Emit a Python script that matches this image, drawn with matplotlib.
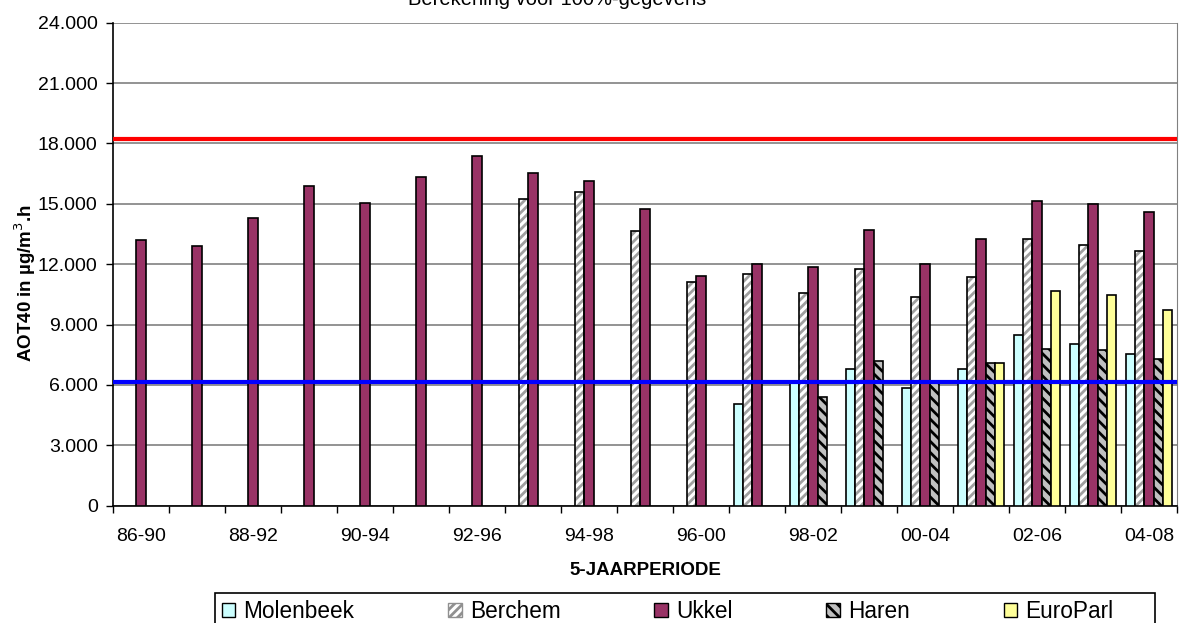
import numpy as np
import matplotlib
matplotlib.use("Agg")
import matplotlib.pyplot as plt
from matplotlib.patches import Patch, Rectangle
from matplotlib.ticker import FuncFormatter

plt.rcParams['font.family'] = ['Liberation Sans', 'DejaVu Sans']
plt.rcParams['hatch.linewidth'] = 2.0

periods = ['86-90', '87-91', '88-92', '89-93', '90-94', '91-95', '92-96', '93-97',
           '94-98', '95-99', '96-00', '97-01', '98-02', '99-03', '00-04', '01-05',
           '02-06', '03-07', '04-08']

nan = np.nan
molenbeek = [nan, nan, nan, nan, nan, nan, nan, nan, nan, nan, nan,
             5050, 6100, 6800, 5850, 6800, 8500, 8050, 7550]
berchem = [nan, nan, nan, nan, nan, nan, nan, 15250, 15600, 13650, 11100,
           11500, 10550, 11750, 10350, 11350, 13250, 12950, 12650]
ukkel = [13200, 12900, 14300, 15900, 15050, 16350, 17400, 16550, 16150, 14750, 11400,
         12000, 11850, 13700, 12000, 13250, 15150, 15000, 14600]
haren = [nan, nan, nan, nan, nan, nan, nan, nan, nan, nan, nan,
         nan, 5400, 7200, 6100, 7100, 7800, 7750, 7300]
europarl = [nan, nan, nan, nan, nan, nan, nan, nan, nan, nan, nan,
            nan, nan, nan, nan, 7100, 10650, 10450, 9700]

target_value = 18200
long_term = 6150

fig = plt.figure(figsize=(11.82, 6.23), dpi=100)
ax = fig.add_axes([113 / 1182, 1 - 505.7 / 623, 1064 / 1182, (505.7 - 22.7) / 623])

x = np.arange(len(periods))
w = 1 / 6

# Molenbeek
ax.bar(x - 2 * w, molenbeek, w, color='#CCFFFF', edgecolor='black', linewidth=1.2, zorder=3)
# Berchem: gray hatch, black outline drawn separately
ax.bar(x - w, berchem, w, color='white', edgecolor='#A0A0A0', hatch='////', linewidth=0, zorder=3)
ax.bar(x - w, berchem, w, fill=False, edgecolor='black', linewidth=1.2, zorder=4)
# Ukkel
ax.bar(x, ukkel, w, color='#993366', edgecolor='black', linewidth=1.2, zorder=3)
# Haren
ax.bar(x + w, haren, w, color='#C0C0C0', edgecolor='black', hatch='\\\\\\', linewidth=1.2, zorder=3)
# EuroParl
ax.bar(x + 2 * w, europarl, w, color='#FFFF99', edgecolor='black', linewidth=1.2, zorder=3)

ax.axhline(target_value, color='#FF0000', linewidth=3, zorder=5)
ax.axhline(long_term, color='#0000FF', linewidth=3, zorder=5)

ax.set_xlim(-0.5, len(periods) - 0.5)
ax.set_ylim(0, 24000)
ax.set_yticks(np.arange(0, 24001, 3000))
ax.yaxis.set_major_formatter(FuncFormatter(
    lambda v, p: '0' if v == 0 else f'{int(v):,}'.replace(',', '.')))
ax.grid(axis='y', color='#808080', linewidth=1.2, zorder=0)

ax.set_xticks(np.arange(-0.5, len(periods), 1))
ax.set_xticklabels([])
ax.set_xticks(x[::2], minor=True)
ax.set_xticklabels(periods[::2], minor=True)
ax.tick_params(axis='x', which='major', direction='out', length=5, width=1)
ax.tick_params(axis='x', which='minor', length=0, pad=16, labelsize=14)
ax.tick_params(axis='y', direction='out', length=5, width=1, labelsize=14, pad=6)

ax.spines['top'].set_visible(False)
ax.spines['right'].set_color('#808080')
ax.spines['left'].set_linewidth(1.2)
ax.spines['bottom'].set_linewidth(1.2)

ax.set_ylabel('AOT40 in µg/m$^3$.h', fontsize=13.5, fontweight='bold')
ax.yaxis.set_label_coords(-88 / 1064, (505.7 - 283) / 483)
ax.yaxis.label.set_va('center')
ax.set_xlabel('5-JAARPERIODE', fontsize=13.5, fontweight='bold', labelpad=12)

fig.text(0.471, 1 - 5 / 623, 'Berekening voor 100%-gegevens', ha='center',
         va='baseline', fontsize=14.5)

# legend box (wider than its entries, as in the original)
fig.patches.append(Rectangle((215 / 1182, -0.05), 940 / 1182, 0.05 + 1 - 593 / 623,
                             transform=fig.transFigure, facecolor='white',
                             edgecolor='black', linewidth=1.2))

handles = [
    Patch(facecolor='#CCFFFF', edgecolor='black', label='Molenbeek'),
    Patch(facecolor='white', edgecolor='#909090', hatch='////', label='Berchem'),
    Patch(facecolor='#993366', edgecolor='black', label='Ukkel'),
    Patch(facecolor='#C0C0C0', edgecolor='black', hatch='\\\\\\', label='Haren'),
    Patch(facecolor='#FFFF99', edgecolor='black', label='EuroParl'),
]
leg = fig.legend(handles=handles, loc='upper left', ncol=5,
                 bbox_to_anchor=(215 / 1182, 1 - 593 / 623),
                 fontsize=16.3, frameon=False, borderaxespad=0,
                 handlelength=0.6, handleheight=0.6, handletextpad=0.35,
                 columnspacing=4.15, borderpad=0.3)

fig.savefig('out.png', dpi=100)
